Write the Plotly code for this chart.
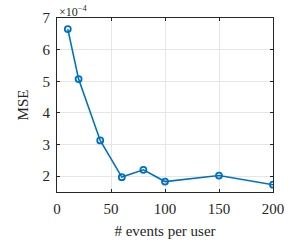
import plotly.graph_objects as go

events = [10, 20, 40, 60, 80, 100, 150, 200]
mse = [6.65, 5.07, 3.13, 1.97, 2.20, 1.83, 2.02, 1.73]
yticks = [2, 3, 4, 5, 6, 7]
xticks = [0, 50, 100, 150, 200]

blue = "#0072BD"
font = "Liberation Serif, DejaVu Serif, serif"

fig = go.Figure()
fig.add_trace(go.Scatter(
    x=events, y=mse, mode="lines+markers",
    line=dict(color=blue, width=1.6),
    marker=dict(symbol="circle-open", size=6, color=blue, line=dict(width=1.8, color=blue)),
    showlegend=False,
))

axis_common = dict(
    showline=True, linecolor="#262626", linewidth=1, mirror="ticks",
    ticks="inside", ticklen=3, tickcolor="#262626",
    showgrid=True, gridcolor="#e6e6e6", gridwidth=1, zeroline=False,
    tickfont=dict(family=font, size=15, color="#262626"),
    automargin=False,
)

fig.update_xaxes(range=[0, 200], tickvals=xticks, ticktext=[str(v) for v in xticks],
                 ticklabelstandoff=3,
                 title=dict(text="# events per user", font=dict(family=font, size=15, color="#262626"), standoff=9),
                 **axis_common)
fig.update_yaxes(range=[1.5, 7], tickvals=yticks, ticktext=[str(v) for v in yticks],
                 ticklabelstandoff=3,
                 title=dict(text="MSE", font=dict(family=font, size=15, color="#262626"), standoff=10),
                 **axis_common)

fig.add_annotation(xref="paper", yref="paper", x=0, y=1, xanchor="left", yanchor="bottom",
                   text="×10<sup>−4</sup>", showarrow=False,
                   font=dict(family=font, size=12, color="#262626"), yshift=-3)

fig.update_layout(
    width=291, height=243,
    margin=dict(l=57, r=18, t=18, b=51),
    paper_bgcolor="white", plot_bgcolor="white",
)

fig.write_html("out.html", config={"displayModeBar": False},
               post_script="document.body.style.margin='0';document.body.style.overflow='hidden';")
